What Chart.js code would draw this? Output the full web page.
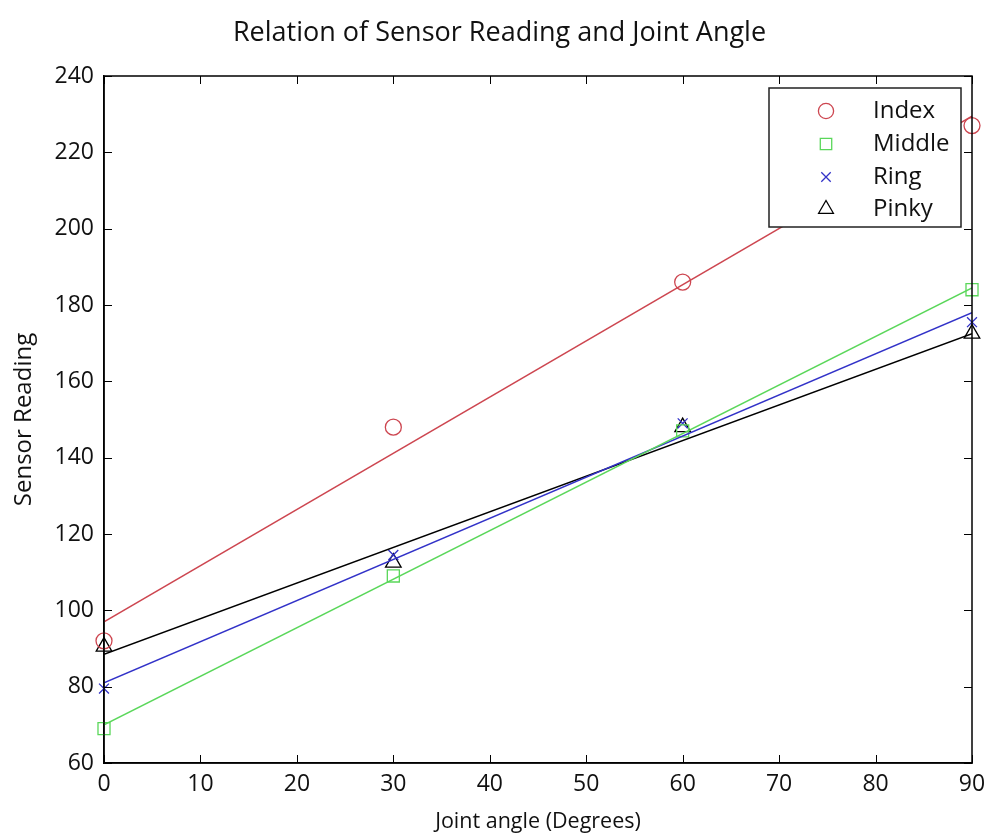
<!DOCTYPE html>
<html>
<head>
<meta charset="utf-8">
<script src="https://cdn.jsdelivr.net/npm/chart.js@4.4.0/dist/chart.umd.min.js"></script>
<style>
	html, body { margin: 0; padding: 0; background: #fff; }
	#wrap { width: 989px; height: 837px; }
</style>
</head>
<body>
<div id="wrap"><canvas id="chart"></canvas></div>
<script>
// joint angles (degrees)
const angles = [0, 30, 60, 90];

// measured sensor readings per finger
const indexReadings = [92, 148, 186, 227];
const middleReadings = [69, 109, 147, 184];
const ringReadings = [79.5, 114.5, 149, 175.5];
const pinkyReadings = [90.5, 112.5, 148, 172.5];

// fitted line end values (at 0 and 90 degrees)
const fitAngles = [0, 90];
const indexFit = [97, 229.5];
const middleFit = [70, 184.5];
const ringFit = [81, 178];
const pinkyFit = [88.5, 172.5];

const xTicks = [0, 10, 20, 30, 40, 50, 60, 70, 80, 90];
const yTicks = [60, 80, 100, 120, 140, 160, 180, 200, 220, 240];

const FONT = '"Open Sans", "Noto Sans", sans-serif';

const fingers = [
	{ label: 'Index', readings: indexReadings, fit: indexFit, color: 'rgb(205, 70, 80)', style: 'circle', radius: 8 },
	{ label: 'Middle', readings: middleReadings, fit: middleFit, color: 'rgb(90, 215, 90)', style: 'rect', radius: 8.5 },
	{ label: 'Ring', readings: ringReadings, fit: ringFit, color: 'rgb(50, 50, 200)', style: 'crossRot', radius: 7 },
	{ label: 'Pinky', readings: pinkyReadings, fit: pinkyFit, color: 'rgb(0, 0, 0)', style: 'triangle', radius: 9 },
];

const toPoints = (xs, ys) => xs.map((x, i) => ({ x, y: ys[i] }));

const datasets = [];
fingers.forEach((f) => {
	datasets.push({
		type: 'line',
		label: f.label + ' fit',
		data: toPoints(fitAngles, f.fit),
		borderColor: f.color,
		borderWidth: 1.5,
		pointRadius: 0,
		fill: false,
	});
});
fingers.forEach((f) => {
	datasets.push({
		type: 'scatter',
		label: f.label,
		data: toPoints(angles, f.readings),
		borderColor: f.color,
		backgroundColor: 'rgba(0,0,0,0)',
		borderWidth: 1.3,
		pointStyle: f.style,
		pointRadius: f.radius,
		clip: false,
	});
});

// box around the axes, inward ticks and the boxed legend
const matlabLook = {
	id: 'matlabLook',
	afterDraw(chart) {
		const { ctx, chartArea: a, scales } = chart;
		ctx.save();
		ctx.strokeStyle = '#000';
		ctx.lineWidth = 1.5;
		ctx.strokeRect(a.left, a.top, a.right - a.left, a.bottom - a.top);

		ctx.lineWidth = 1;
		const tl = 8;
		ctx.beginPath();
		xTicks.forEach((v) => {
			const px = Math.round(scales.x.getPixelForValue(v)) + 0.5;
			ctx.moveTo(px, a.bottom); ctx.lineTo(px, a.bottom - tl);
			ctx.moveTo(px, a.top); ctx.lineTo(px, a.top + tl);
		});
		yTicks.forEach((v) => {
			const py = Math.round(scales.y.getPixelForValue(v)) + 0.5;
			ctx.moveTo(a.left, py); ctx.lineTo(a.left + tl, py);
			ctx.moveTo(a.right, py); ctx.lineTo(a.right - tl, py);
		});
		ctx.stroke();

		// legend
		const box = { left: 769, top: 88, width: 192, height: 139 };
		ctx.fillStyle = '#fff';
		ctx.fillRect(box.left, box.top, box.width, box.height);
		ctx.lineWidth = 1.5;
		ctx.strokeStyle = '#222';
		ctx.strokeRect(box.left, box.top, box.width, box.height);

		const rowYs = [111, 144, 177, 209];
		ctx.font = '24px ' + FONT;
		ctx.textBaseline = 'middle';
		ctx.textAlign = 'left';
		fingers.forEach((f, i) => {
			ctx.strokeStyle = f.color;
			ctx.fillStyle = 'rgba(0,0,0,0)';
			ctx.lineWidth = 1.3;
			Chart.helpers.drawPoint(ctx, { pointStyle: f.style, radius: f.radius * 0.95, rotation: 0, borderWidth: 1.3 }, 826, rowYs[i]);
			ctx.fillStyle = '#111';
			ctx.fillText(f.label, 873, rowYs[i]);
		});
		ctx.restore();
	}
};

new Chart(document.getElementById('chart').getContext('2d'), {
	data: { datasets },
	options: {
		responsive: true,
		maintainAspectRatio: false,
		animation: false,
		layout: { padding: { left: 10, right: 0, top: 0, bottom: 0 } },
		plugins: {
			legend: { display: false },
			tooltip: { enabled: false },
			title: {
				display: true,
				text: 'Relation of Sensor Reading and Joint Angle',
				color: '#111',
				font: { family: FONT, size: 27, weight: 'normal', lineHeight: 1.2 },
				padding: { top: 17, bottom: 26.6 },
			},
		},
		scales: {
			x: {
				type: 'linear',
				min: 0,
				max: 90,
				afterBuildTicks: (scale) => { scale.ticks = xTicks.map((v) => ({ value: v })); },
				afterFit: (scale) => {
					scale.height = 74;
					scale.paddingLeft = 0;
					scale.paddingRight = 17;
				},
				grid: { display: false, drawTicks: false },
				border: { display: true, color: '#000', width: 1.5 },
				ticks: { color: '#111', padding: 8, font: { family: FONT, size: 23 } },
				title: {
					display: true,
					text: 'Joint angle (Degrees)',
					color: '#111',
					font: { family: FONT, size: 21.5, lineHeight: 1.2 },
					padding: { top: 0, bottom: 2 },
				},
			},
			y: {
				type: 'linear',
				min: 60,
				max: 240,
				afterBuildTicks: (scale) => { scale.ticks = yTicks.map((v) => ({ value: v })); },
				afterFit: (scale) => { scale.width = 94; },
				grid: { display: false, drawTicks: false },
				border: { display: true, color: '#000', width: 1.5 },
				ticks: { color: '#111', padding: 10, font: { family: FONT, size: 23 } },
				title: {
					display: true,
					text: 'Sensor Reading',
					color: '#111',
					font: { family: FONT, size: 24, lineHeight: 1.2 },
					padding: { top: 0, bottom: 0 },
				},
			},
		},
	},
	plugins: [matlabLook],
});
</script>
</body>
</html>
